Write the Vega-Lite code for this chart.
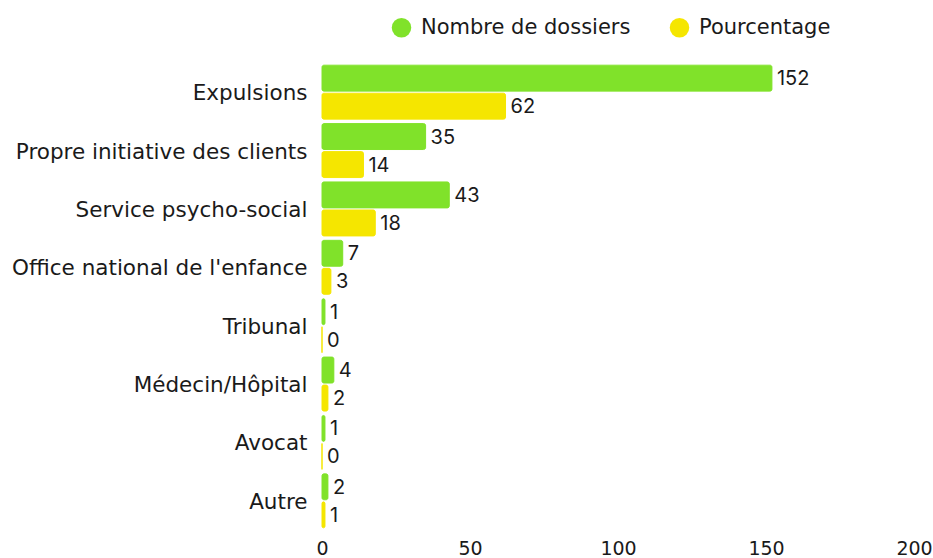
{
  "$schema": "https://vega.github.io/schema/vega-lite/v6.json",
  "width": 592,
  "height": 467,
  "autosize": {"type": "none"},
  "padding": {"left": 322, "top": 63, "right": 19, "bottom": 28},
  "background": "#ffffff",
  "config": {
    "font": "DejaVu Sans",
    "view": {"stroke": null},
    "axis": {"grid": false, "domain": false, "ticks": false, "labelColor": "#1a1a1a", "title": null}
  },
  "data": {
    "values": [
      {"cat": "Expulsions", "series": "Nombre de dossiers", "value": 152},
      {"cat": "Expulsions", "series": "Pourcentage", "value": 62},
      {"cat": "Propre initiative des clients", "series": "Nombre de dossiers", "value": 35},
      {"cat": "Propre initiative des clients", "series": "Pourcentage", "value": 14},
      {"cat": "Service psycho-social", "series": "Nombre de dossiers", "value": 43},
      {"cat": "Service psycho-social", "series": "Pourcentage", "value": 18},
      {"cat": "Office national de l'enfance", "series": "Nombre de dossiers", "value": 7},
      {"cat": "Office national de l'enfance", "series": "Pourcentage", "value": 3},
      {"cat": "Tribunal", "series": "Nombre de dossiers", "value": 1},
      {"cat": "Tribunal", "series": "Pourcentage", "value": 0},
      {"cat": "Médecin/Hôpital", "series": "Nombre de dossiers", "value": 4},
      {"cat": "Médecin/Hôpital", "series": "Pourcentage", "value": 2},
      {"cat": "Avocat", "series": "Nombre de dossiers", "value": 1},
      {"cat": "Avocat", "series": "Pourcentage", "value": 0},
      {"cat": "Autre", "series": "Nombre de dossiers", "value": 2},
      {"cat": "Autre", "series": "Pourcentage", "value": 1}
    ]
  },
  "encoding": {
    "y": {
      "field": "cat", "type": "nominal", "sort": null,
      "scale": {"paddingInner": 0.075, "paddingOuter": 0.0375},
      "axis": {"labelFontSize": 21.5, "labelPadding": 15, "labelLimit": 400, "labelOffset": 2}
    },
    "yOffset": {
      "field": "series", "type": "nominal",
      "scale": {"paddingInner": 0.074, "paddingOuter": 0}
    },
    "x": {
      "field": "value", "type": "quantitative",
      "scale": {"domain": [0, 200], "nice": false},
      "axis": {"values": [0, 50, 100, 150, 200], "labelFontSize": 19, "labelPadding": 9, "labelFlush": false}
    }
  },
  "layer": [
    {
      "mark": {"type": "bar", "cornerRadius": 2, "strokeWidth": 1},
      "encoding": {
        "color": {
          "field": "series", "type": "nominal",
          "scale": {"domain": ["Nombre de dossiers", "Pourcentage"], "range": ["#80E22A", "#F5E600"]},
          "legend": {
            "title": null, "orient": "none", "direction": "horizontal",
            "legendX": 69, "legendY": -46,
            "symbolType": "circle", "symbolSize": 380, "symbolOpacity": 1, "symbolStrokeWidth": 0,
            "labelFontSize": 21, "labelColor": "#1a1a1a", "labelOffset": 9, "labelLimit": 400,
            "columnPadding": 38, "padding": 0
          }
        },
        "stroke": {
          "field": "series", "type": "nominal",
          "scale": {"domain": ["Nombre de dossiers", "Pourcentage"], "range": ["#80E22A", "#F5E600"]},
          "legend": null
        }
      }
    },
    {
      "mark": {"type": "text", "align": "left", "baseline": "middle", "dx": 5, "dy": 1, "fontSize": 20, "font": "Inter", "color": "#1a1a1a"},
      "encoding": {"text": {"field": "value", "type": "quantitative"}}
    }
  ]
}
